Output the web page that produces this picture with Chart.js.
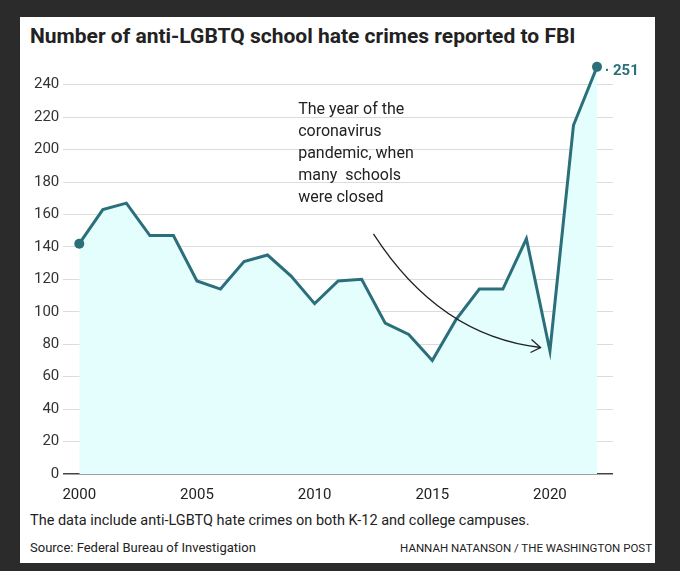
<!DOCTYPE html>
<html>
<head>
<meta charset="utf-8">
<script src="https://cdn.jsdelivr.net/npm/chart.js@4"></script>
<style>
  body { margin: 0; background: #2b2b2b; width: 680px; height: 571px; overflow: hidden; }
  #panel { position: absolute; left: 20px; top: 17px; width: 635px; height: 546px; background: #fff; }
  .t { position: absolute; font-family: 'Liberation Sans Narrow', 'Roboto', sans-serif; color: #222; white-space: nowrap; }
  #title { left: 10px; top: 7px; font-size: 21px; font-weight: bold; }
  #note { left: 10px; top: 495px; font-size: 14.5px; }
  #src { left: 10px; top: 523px; font-size: 13px; }
  #credit { right: 3px; top: 524px; font-size: 11.5px; }
  #wrap { position: absolute; left: 0; top: 32px; width: 635px; height: 459px; }
</style>
</head>
<body>
<div id="panel">
  <div class="t" id="title">Number of anti-LGBTQ school hate crimes reported to FBI</div>
  <div id="wrap"><canvas id="c"></canvas></div>
  <div class="t" id="note">The data include anti-LGBTQ hate crimes on both K-12 and college campuses.</div>
  <div class="t" id="src">Source: Federal Bureau of Investigation</div>
  <div class="t" id="credit">HANNAH NATANSON / THE WASHINGTON POST</div>
</div>
<script>
const years = [2000, 2001, 2002, 2003, 2004, 2005, 2006, 2007, 2008, 2009, 2010, 2011,
  2012, 2013, 2014, 2015, 2016, 2017, 2018, 2019, 2020, 2021, 2022];
const crimes = [142, 163, 167, 147, 147, 119, 114, 131, 135, 122, 105, 119,
  120, 93, 86, 70, 95, 114, 114, 145, 76, 215, 251];
const xTicks = [2000, 2005, 2010, 2015, 2020];
const yTicks = [0, 20, 40, 60, 80, 100, 120, 140, 160, 180, 200, 220, 240];
const noteLines = ['The year of the', 'coronavirus', 'pandemic, when', 'many  schools', 'were closed'];

const lineColor = '#2b6f7a';
const font = "'Liberation Sans Narrow', 'Roboto', sans-serif";

const extras = {
  id: 'extras',
  afterDatasetsDraw(chart) {
    const { ctx, scales: { x, y } } = chart;
    ctx.save();
    // end points
    ctx.fillStyle = lineColor;
    [0, years.length - 1].forEach(i => {
      ctx.beginPath();
      ctx.arc(x.getPixelForValue(years[i]), y.getPixelForValue(crimes[i]), 5, 0, Math.PI * 2);
      ctx.fill();
    });
    // last value label
    const lx = x.getPixelForValue(years[years.length - 1]);
    const ly = y.getPixelForValue(crimes[crimes.length - 1]);
    ctx.font = 'bold 15px ' + font;
    ctx.textBaseline = 'middle';
    ctx.fillText(crimes[crimes.length - 1], lx + 16, ly + 4);
    ctx.fillRect(lx + 9, ly + 2, 2, 2);
    // annotation
    ctx.fillStyle = '#222';
    ctx.font = '16px ' + font;
    ctx.textBaseline = 'alphabetic';
    const tx = x.getPixelForValue(2009.3);
    noteLines.forEach((s, i) => ctx.fillText(s, tx, y.getPixelForValue(222) + i * 22));
    // arrow
    const sx = x.getPixelForValue(2012.5), sy = y.getPixelForValue(148);
    const ex = x.getPixelForValue(2019.6), ey = y.getPixelForValue(78);
    ctx.strokeStyle = '#222';
    ctx.lineWidth = 1.3;
    ctx.beginPath();
    ctx.moveTo(sx, sy);
    ctx.quadraticCurveTo(x.getPixelForValue(2015.3), y.getPixelForValue(85), ex, ey);
    ctx.stroke();
    ctx.beginPath();
    ctx.moveTo(ex - 9, ey - 8);
    ctx.lineTo(ex, ey);
    ctx.lineTo(ex - 10, ey + 5);
    ctx.stroke();
    ctx.restore();
  }
};

new Chart(document.getElementById('c'), {
  type: 'line',
  data: {
    datasets: [{
      data: years.map((yr, i) => ({ x: yr, y: crimes[i] })),
      borderColor: lineColor,
      borderWidth: 3,
      backgroundColor: '#e4fdfd',
      fill: 'origin',
      pointRadius: 0,
      tension: 0,
      clip: false
    }]
  },
  options: {
    responsive: true,
    maintainAspectRatio: false,
    animation: false,
    layout: { padding: { left: 10, right: 42, top: 4, bottom: 0 } },
    plugins: { legend: { display: false }, tooltip: { enabled: false } },
    scales: {
      x: {
        type: 'linear',
        min: 1999.32,
        max: 2022.68,
        afterBuildTicks: axis => { axis.ticks = xTicks.map(v => ({ value: v })); },
        ticks: { color: '#222', font: { family: font, size: 15 }, padding: 4, callback: v => String(v) },
        grid: { display: false },
        border: { display: false }
      },
      y: {
        min: 0,
        max: 254,
        afterBuildTicks: axis => { axis.ticks = yTicks.map(v => ({ value: v })); },
        ticks: { color: '#333', font: { family: font, size: 15 }, padding: 4 },
        grid: {
          color: ctx => ctx.tick && ctx.tick.value === 0 ? '#444' : '#dcdcdc',
          lineWidth: ctx => ctx.tick && ctx.tick.value === 0 ? 1.5 : 1,
          drawTicks: false
        },
        border: { display: false }
      }
    }
  },
  plugins: [extras]
});
</script>
</body>
</html>
